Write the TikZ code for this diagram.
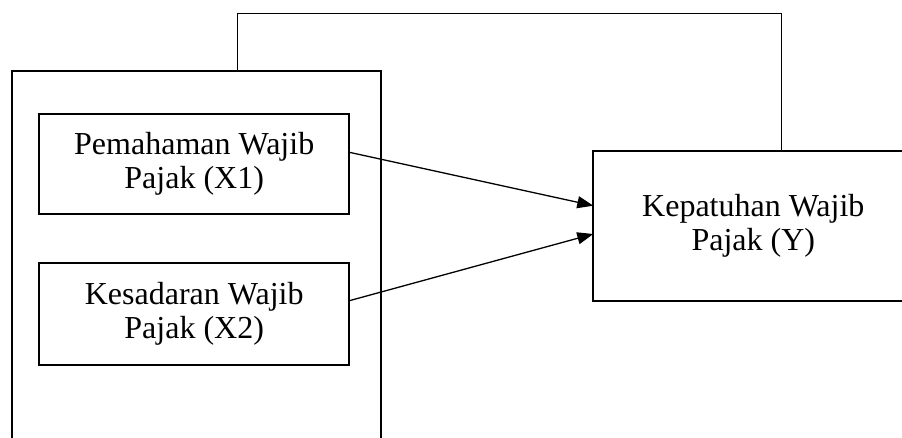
\documentclass[tikz,border=0pt]{standalone}
\usepackage{fontspec}
\setmainfont{Liberation Serif}
\usetikzlibrary{arrows.meta}
\begin{document}
\begin{tikzpicture}[x=1pt,y=-1pt,
  box/.style={draw, line width=2.2pt, rectangle, inner sep=0pt, outer sep=0pt, align=center,
    font=\fontsize{32}{34}\selectfont},
  link/.style={line width=1.3pt, -{Triangle[length=16pt,width=12pt]}},
  loopline/.style={line width=1.1pt}]
\useasboundingbox (0,0) rectangle (902,438);
\clip (0,0) rectangle (902,438);
\node[box, minimum width=369.3pt, minimum height=400pt, anchor=north west] (outer) at (11.7,71) {};
\node[box, minimum width=310.3pt, minimum height=99.7pt] (x1) at (194.2,163.9) {Pemahaman Wajib\\Pajak (X1)};
\node[box, minimum width=310.3pt, minimum height=101.7pt] (x2) at (194.2,314.2) {Kesadaran Wajib\\Pajak (X2)};
\node[box, minimum width=320pt, minimum height=150pt, anchor=north west] (y) at (593.3,151) {Kepatuhan Wajib\\Pajak (Y)};
\coordinate (topline) at (500,13.3);
\draw[loopline] ([xshift=225.6pt]outer.north west) |- (topline) -| ([xshift=188.4pt]y.north west);
\draw[link] ([yshift=11.6pt]x1.east) -- ([yshift=20.3pt]y.west);
\draw[link] ([yshift=13.5pt]x2.east) -- ([yshift=-8pt]y.west);
\end{tikzpicture}
\end{document}
